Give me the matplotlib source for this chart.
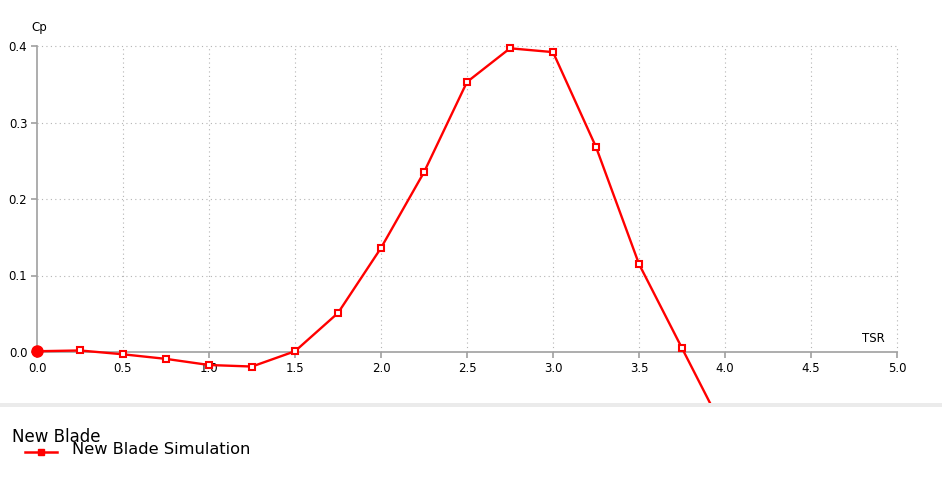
import numpy as np
import matplotlib
matplotlib.use('Agg')
import matplotlib.pyplot as plt
from matplotlib.lines import Line2D
from matplotlib.patches import Rectangle

# data
tsr = [0.0, 0.25, 0.5, 0.75, 1.0, 1.25, 1.5, 1.75, 2.0, 2.25, 2.5, 2.75, 3.0, 3.25, 3.5, 3.75, 4.0]
cp = [0.001, 0.002, -0.003, -0.009, -0.017, -0.019, 0.001, 0.051, 0.136, 0.235, 0.353, 0.397,
      0.392, 0.268, 0.115, 0.005, -0.105]
x_ticks = [0.0, 0.5, 1.0, 1.5, 2.0, 2.5, 3.0, 3.5, 4.0, 4.5, 5.0]
y_ticks = [0.0, 0.1, 0.2, 0.3, 0.4]
series_name = 'New Blade Simulation'
group_name = 'New Blade'

W, H = 942, 478
fig = plt.figure(figsize=(W / 100, H / 100), dpi=100)
fig.patch.set_facecolor('white')

# plot panel: top 403 px of figure
ax = fig.add_axes([0, (H - 403) / H, 1, 403 / H])
ax.set_facecolor('white')
px_x = 172.0   # px per TSR unit
px_y = 765.0   # px per Cp unit
ax.set_xlim(-37 / px_x, 5 + 45 / px_x)
ax.set_ylim(-51 / px_y, 0.4 + 46 / px_y)

for s in ['top', 'right']:
    ax.spines[s].set_visible(False)
ax.spines['left'].set_position(('data', 0))
ax.spines['bottom'].set_position(('data', 0))
ax.spines['left'].set_bounds(0, 0.4)
ax.spines['bottom'].set_bounds(0, 5)
for s in ['left', 'bottom']:
    ax.spines[s].set_color('#a0a0a0')
    ax.spines[s].set_linewidth(1.2)

# dotted grid limited to the tick range
ax.vlines(x_ticks[1:], 0, 0.4, colors='#b4b4b4', linestyles=(0, (1, 3)), linewidth=0.8, zorder=1)
ax.hlines(y_ticks[1:], 0, 5, colors='#b4b4b4', linestyles=(0, (1, 3)), linewidth=0.8, zorder=1)

ax.set_xticks(x_ticks)
ax.set_xticklabels(['%.1f' % v for v in x_ticks])
ax.set_yticks(y_ticks)
ax.set_yticklabels(['%.1f' % v for v in y_ticks])
ax.tick_params(axis='both', colors='#a0a0a0', labelcolor='black', labelsize=8.5,
               length=4, width=1.2, direction='out')
ax.tick_params(axis='x', pad=3)
ax.tick_params(axis='y', pad=3)

ax.plot(tsr, cp, color='red', linewidth=1.7, marker='s', markersize=4.5,
        markerfacecolor='white', markeredgecolor='red', markeredgewidth=1.5, zorder=3,
        clip_on=True)
ax.plot(tsr[0], cp[0], 'o', color='red', markersize=8, zorder=4, clip_on=False)

ax.text(-0.03, 0.4 + 18 / px_y, 'Cp', fontsize=8.5, ha='left', va='center')
ax.text(5 - 24 / px_x, 13 / px_y, 'TSR', fontsize=8.5, ha='center', va='center')

# separator band
fig.patches.append(Rectangle((0, (H - 407) / H), 1, 4 / H, transform=fig.transFigure,
                             facecolor='#ebebeb', edgecolor='none'))

# legend area
fig.text(12 / W, 1 - 437 / H, group_name, fontsize=12, ha='left', va='center')
fig.add_artist(Line2D([25 / W, 57 / W], [1 - 452 / H, 1 - 452 / H], color='red',
                      linewidth=1.8, transform=fig.transFigure))
fig.add_artist(Line2D([41 / W], [1 - 452 / H], color='red', marker='s', markersize=4.5,
                      linestyle='none', transform=fig.transFigure))
fig.text(72 / W, 1 - 450 / H, series_name, fontsize=11.7, ha='left', va='center')

fig.savefig('out.png', dpi=100, facecolor='white')
